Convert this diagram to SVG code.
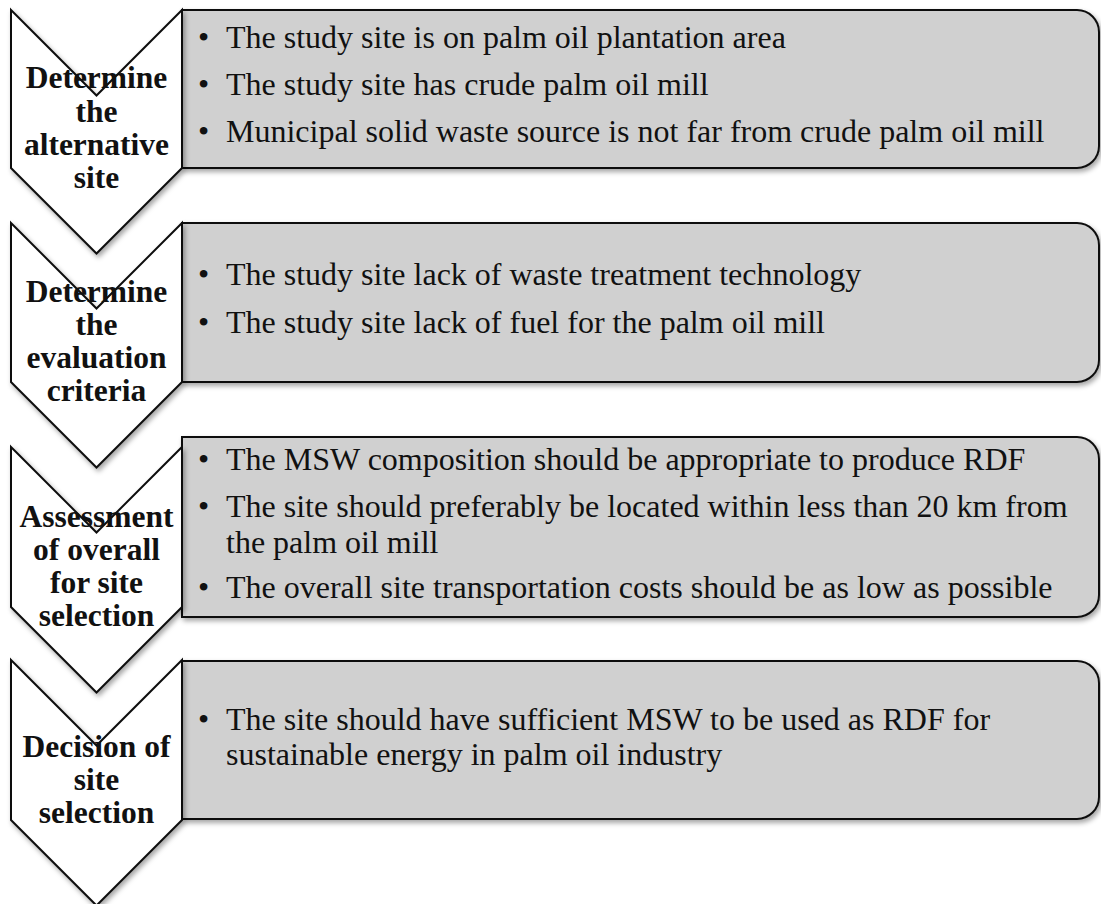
<svg xmlns="http://www.w3.org/2000/svg" width="1101" height="904" viewBox="0 0 1101 904">
<defs>
<filter id="sh" x="-10%" y="-10%" width="130%" height="130%">
<feDropShadow dx="2" dy="3" stdDeviation="2.5" flood-color="#000" flood-opacity="0.35"/>
</filter>
<style>
.box{fill:#d0d0d0;stroke:#111;stroke-width:2;filter:url(#sh)}
.chev{fill:#fff;stroke:#111;stroke-width:2;filter:url(#sh)}
.t{font-family:"Liberation Serif","Times New Roman",serif;font-size:32px;fill:#111}
.h{font-family:"Liberation Serif","Times New Roman",serif;font-size:31.5px;font-weight:bold;fill:#111;text-anchor:middle}
</style>
</defs>
<rect width="1101" height="904" fill="#fff"/>
<g id="connectors"></g>

<g id="box1">
<path class="box" d="M182,10 H1077 A22,22 0 0 1 1099,32 V146 A22,22 0 0 1 1077,168 H182 Z"/>
<text class="t" x="198" y="48">•</text><text class="t" x="226" y="48">The study site is on palm oil plantation area</text>
<text class="t" x="198" y="95">•</text><text class="t" x="226" y="95">The study site has crude palm oil mill</text>
<text class="t" x="198" y="142">•</text><text class="t" x="226" y="142">Municipal solid waste source is not far from crude palm oil mill</text>
</g>
<g id="step1">
<path class="chev" d="M11,10 L96.5,95.5 L182,10 V168 L96.5,253.5 L11,168 Z"/>
<text class="h" x="96.5" y="88">Determine</text>
<text class="h" x="96.5" y="122">the</text>
<text class="h" x="96.5" y="155">alternative</text>
<text class="h" x="96.5" y="188">site</text>
</g>

<g id="box2">
<path class="box" d="M182,223 H1077 A22,22 0 0 1 1099,245 V360 A22,22 0 0 1 1077,382 H182 Z"/>
<text class="t" x="198" y="285">•</text><text class="t" x="226" y="285">The study site lack of waste treatment technology</text>
<text class="t" x="198" y="333">•</text><text class="t" x="226" y="333">The study site lack of fuel for the palm oil mill</text>
</g>
<g id="step2">
<path class="chev" d="M11,223 L96.5,308.5 L182,223 V382 L96.5,467.5 L11,382 Z"/>
<text class="h" x="96.5" y="302">Determine</text>
<text class="h" x="96.5" y="335">the</text>
<text class="h" x="96.5" y="368">evaluation</text>
<text class="h" x="96.5" y="401">criteria</text>
</g>

<g id="box3">
<path class="box" d="M182,437 H1077 A22,22 0 0 1 1099,459 V595 A22,22 0 0 1 1077,617 H182 Z"/>
<text class="t" x="198" y="470">•</text><text class="t" x="226" y="470">The MSW composition should be appropriate to produce RDF</text>
<text class="t" x="198" y="517">•</text><text class="t" x="226" y="517">The site should preferably be located within less than 20 km from</text>
<text class="t" x="226" y="553">the palm oil mill</text>
<text class="t" x="198" y="598">•</text><text class="t" x="226" y="598">The overall site transportation costs should be as low as possible</text>
</g>
<g id="step3">
<path class="chev" d="M11,447 L96.5,532.5 L182,447 V607 L96.5,692.5 L11,607 Z"/>
<text class="h" x="96.5" y="527">Assessment</text>
<text class="h" x="96.5" y="560">of overall</text>
<text class="h" x="96.5" y="593">for site</text>
<text class="h" x="96.5" y="626">selection</text>
</g>

<g id="box4">
<path class="box" d="M182,661 H1077 A22,22 0 0 1 1099,683 V797 A22,22 0 0 1 1077,819 H182 Z"/>
<text class="t" x="198" y="730">•</text><text class="t" x="226" y="730">The site should have sufficient MSW to be used as RDF for</text>
<text class="t" x="226" y="765">sustainable energy in palm oil industry</text>
</g>
<g id="step4">
<path class="chev" d="M11,660 L96.5,745.5 L182,660 V820 L96.5,905.5 L11,820 Z"/>
<text class="h" x="96.5" y="757">Decision of</text>
<text class="h" x="96.5" y="790">site</text>
<text class="h" x="96.5" y="823">selection</text>
</g>
</svg>
